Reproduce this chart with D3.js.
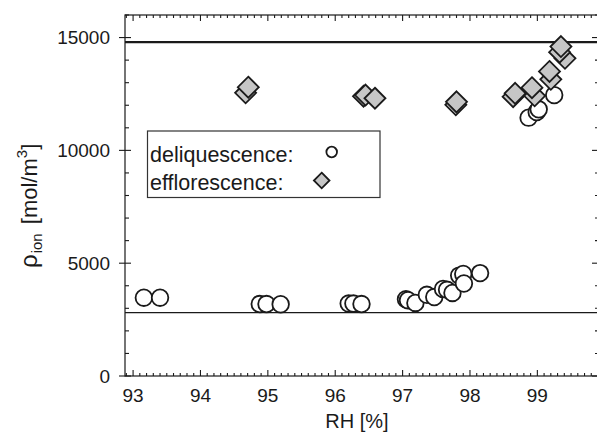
<!DOCTYPE html>
<html>
<head>
<meta charset="utf-8">
<script src="https://cdn.jsdelivr.net/npm/d3@7"></script>
<style>
  html, body { margin: 0; padding: 0; background: #fff; }
  svg { display: block; }
  text { font-family: "Liberation Sans", Arial, Helvetica, sans-serif; fill: #1a1a1a; }
</style>
</head>
<body>
<script>
// Deliquescence measurements: relative humidity [%] and ion density [mol/m^3]
const deliqRH  = [93.16, 93.40, 94.88, 94.98, 95.19, 96.20, 96.27, 96.39,
                  97.05, 97.08, 97.19, 97.36, 97.47, 97.60, 97.66, 97.74,
                  97.84, 97.90, 97.91, 98.15, 98.87, 98.99, 99.02, 99.25];
const deliqRho = [3470, 3470, 3190, 3190, 3180, 3210, 3210, 3190,
                  3400, 3360, 3240, 3600, 3500, 3860, 3820, 3680,
                  4450, 4520, 4100, 4560, 11450, 11700, 11820, 12450];

// Efflorescence measurements
const efflRH  = [94.67, 94.71, 96.42, 96.45, 96.59, 97.79, 97.80,
                 98.64, 98.67, 98.96, 98.92, 99.20, 99.18, 99.41, 99.33, 99.35];
const efflRho = [12550, 12800, 12400, 12450, 12310, 12020, 12150,
                 12380, 12530, 12420, 12780, 13150, 13500, 14080, 14350, 14600];

// Reference levels drawn as horizontal lines
const upperLevel = 14800;
const lowerLevel = 2810;

// Axis ticks
const xMajor = [93, 94, 95, 96, 97, 98, 99];
const yMajor = [0, 5000, 10000, 15000];
const xDomain = [92.88, 99.9];
const yDomain = [0, 16000];

const legendLabels = ["deliquescence:", "efflorescence:"];

const W = 597, H = 432;
const svg = d3.select("body").append("svg").attr("width", W).attr("height", H);

const x = d3.scaleLinear().domain(xDomain).range([125, 598]);
const y = d3.scaleLinear().domain(yDomain).range([376, 15]);

const ink = "#1a1a1a";
const [x0, x1] = x.range();
const [y0, y1] = y.range();

// Minor/major ticks
const xMinor = d3.range(Math.round(xDomain[0] * 10) / 10, xDomain[1] + 1e-9, 0.1)
  .map(v => Math.round(v * 10) / 10)
  .filter(v => v >= xDomain[0] && Math.abs(v - Math.round(v)) > 1e-6);
const yMinor = d3.range(0, yDomain[1] + 1, 1000).filter(v => v % 5000 !== 0);

const ticks = svg.append("g").attr("stroke", ink).attr("stroke-width", 1.1);
// bottom
xMinor.forEach(v => ticks.append("line").attr("x1", x(v)).attr("x2", x(v)).attr("y1", y0).attr("y2", y0 - 3));
xMajor.forEach(v => ticks.append("line").attr("x1", x(v)).attr("x2", x(v)).attr("y1", y0).attr("y2", y0 - 6));
// top
xMinor.forEach(v => ticks.append("line").attr("x1", x(v)).attr("x2", x(v)).attr("y1", y1).attr("y2", y1 + 3));
xMajor.forEach(v => ticks.append("line").attr("x1", x(v)).attr("x2", x(v)).attr("y1", y1).attr("y2", y1 + 6));
// left
yMinor.forEach(v => ticks.append("line").attr("x1", x0).attr("x2", x0 + 4).attr("y1", y(v)).attr("y2", y(v)));
yMajor.forEach(v => ticks.append("line").attr("x1", x0 - 6).attr("x2", x0 + 6).attr("y1", y(v)).attr("y2", y(v)));
// right
yMinor.forEach(v => ticks.append("line").attr("x1", x1).attr("x2", x1 - 3).attr("y1", y(v)).attr("y2", y(v)));
yMajor.forEach(v => ticks.append("line").attr("x1", x1).attr("x2", x1 - 6).attr("y1", y(v)).attr("y2", y(v)));

// Frame
svg.append("rect")
  .attr("x", x0).attr("y", y1).attr("width", x1 - x0).attr("height", y0 - y1)
  .attr("fill", "none").attr("stroke", ink).attr("stroke-width", 1.2);

// Tick labels
svg.append("g").selectAll("text").data(xMajor).join("text")
  .attr("x", d => x(d)).attr("y", 401.5)
  .attr("text-anchor", "middle").attr("font-size", 19)
  .text(d => d);
svg.append("g").selectAll("text").data(yMajor).join("text")
  .attr("x", 110).attr("y", d => y(d)).attr("dy", "0.36em")
  .attr("text-anchor", "end").attr("font-size", 19)
  .text(d => d);

// Axis titles
svg.append("text").attr("x", 357).attr("y", 428)
  .attr("text-anchor", "middle").attr("font-size", 20).text("RH [%]");

const yt = svg.append("text")
  .attr("transform", "translate(37,268) rotate(-90)")
  .attr("font-size", 22);
yt.append("tspan").attr("font-size", 24).text("ρ");
yt.append("tspan").attr("font-size", 15).attr("dx", 1).attr("dy", 5).text("ion");
yt.append("tspan").attr("dx", 3).attr("dy", -5).text(" [mol/m");
yt.append("tspan").attr("font-size", 15).attr("dy", -10).text("3");
yt.append("tspan").attr("dy", 10).text("]");

// Horizontal reference lines
svg.append("clipPath").attr("id", "plot-area")
  .append("rect").attr("x", x0).attr("y", y1).attr("width", x1 - x0).attr("height", y0 - y1);
svg.append("line").attr("x1", x0).attr("x2", x1)
  .attr("y1", y(upperLevel)).attr("y2", y(upperLevel))
  .attr("stroke", ink).attr("stroke-width", 2.4);
svg.append("line").attr("x1", x0).attr("x2", x1)
  .attr("y1", y(lowerLevel)).attr("y2", y(lowerLevel))
  .attr("stroke", ink).attr("stroke-width", 1.3);

// Markers
const diamond = s => `M0,${-s}L${s},0L0,${s}L${-s},0Z`;
const marks = svg.append("g").attr("clip-path", "url(#plot-area)");

marks.selectAll("circle.deliq").data(d3.range(deliqRH.length)).join("circle")
  .attr("class", "deliq")
  .attr("cx", i => x(deliqRH[i])).attr("cy", i => y(deliqRho[i]))
  .attr("r", 8.3)
  .attr("fill", "#fff").attr("stroke", ink).attr("stroke-width", 1.8);

marks.selectAll("path.effl").data(d3.range(efflRH.length)).join("path")
  .attr("class", "effl")
  .attr("transform", i => `translate(${x(efflRH[i])},${y(efflRho[i])})`)
  .attr("d", diamond(10.5))
  .attr("fill", "#c6c6c6").attr("stroke", ink).attr("stroke-width", 1.8)
  .attr("stroke-linejoin", "miter");

// Legend
const lg = svg.append("g");
lg.append("rect").attr("x", 147.5).attr("y", 131).attr("width", 232.5).attr("height", 66.5)
  .attr("fill", "#fff").attr("stroke", "#333").attr("stroke-width", 1.2);
lg.selectAll("text").data(legendLabels).join("text")
  .attr("x", 150).attr("y", (d, i) => 161.5 + i * 28.5)
  .attr("font-size", 21.5).text(d => d);
lg.append("circle").attr("cx", 331.7).attr("cy", 152).attr("r", 5.3)
  .attr("fill", "#fff").attr("stroke", ink).attr("stroke-width", 1.8);
lg.append("path").attr("transform", "translate(321.7,180.5)").attr("d", diamond(7.8))
  .attr("fill", "#c6c6c6").attr("stroke", ink).attr("stroke-width", 1.8);
</script>
</body>
</html>
